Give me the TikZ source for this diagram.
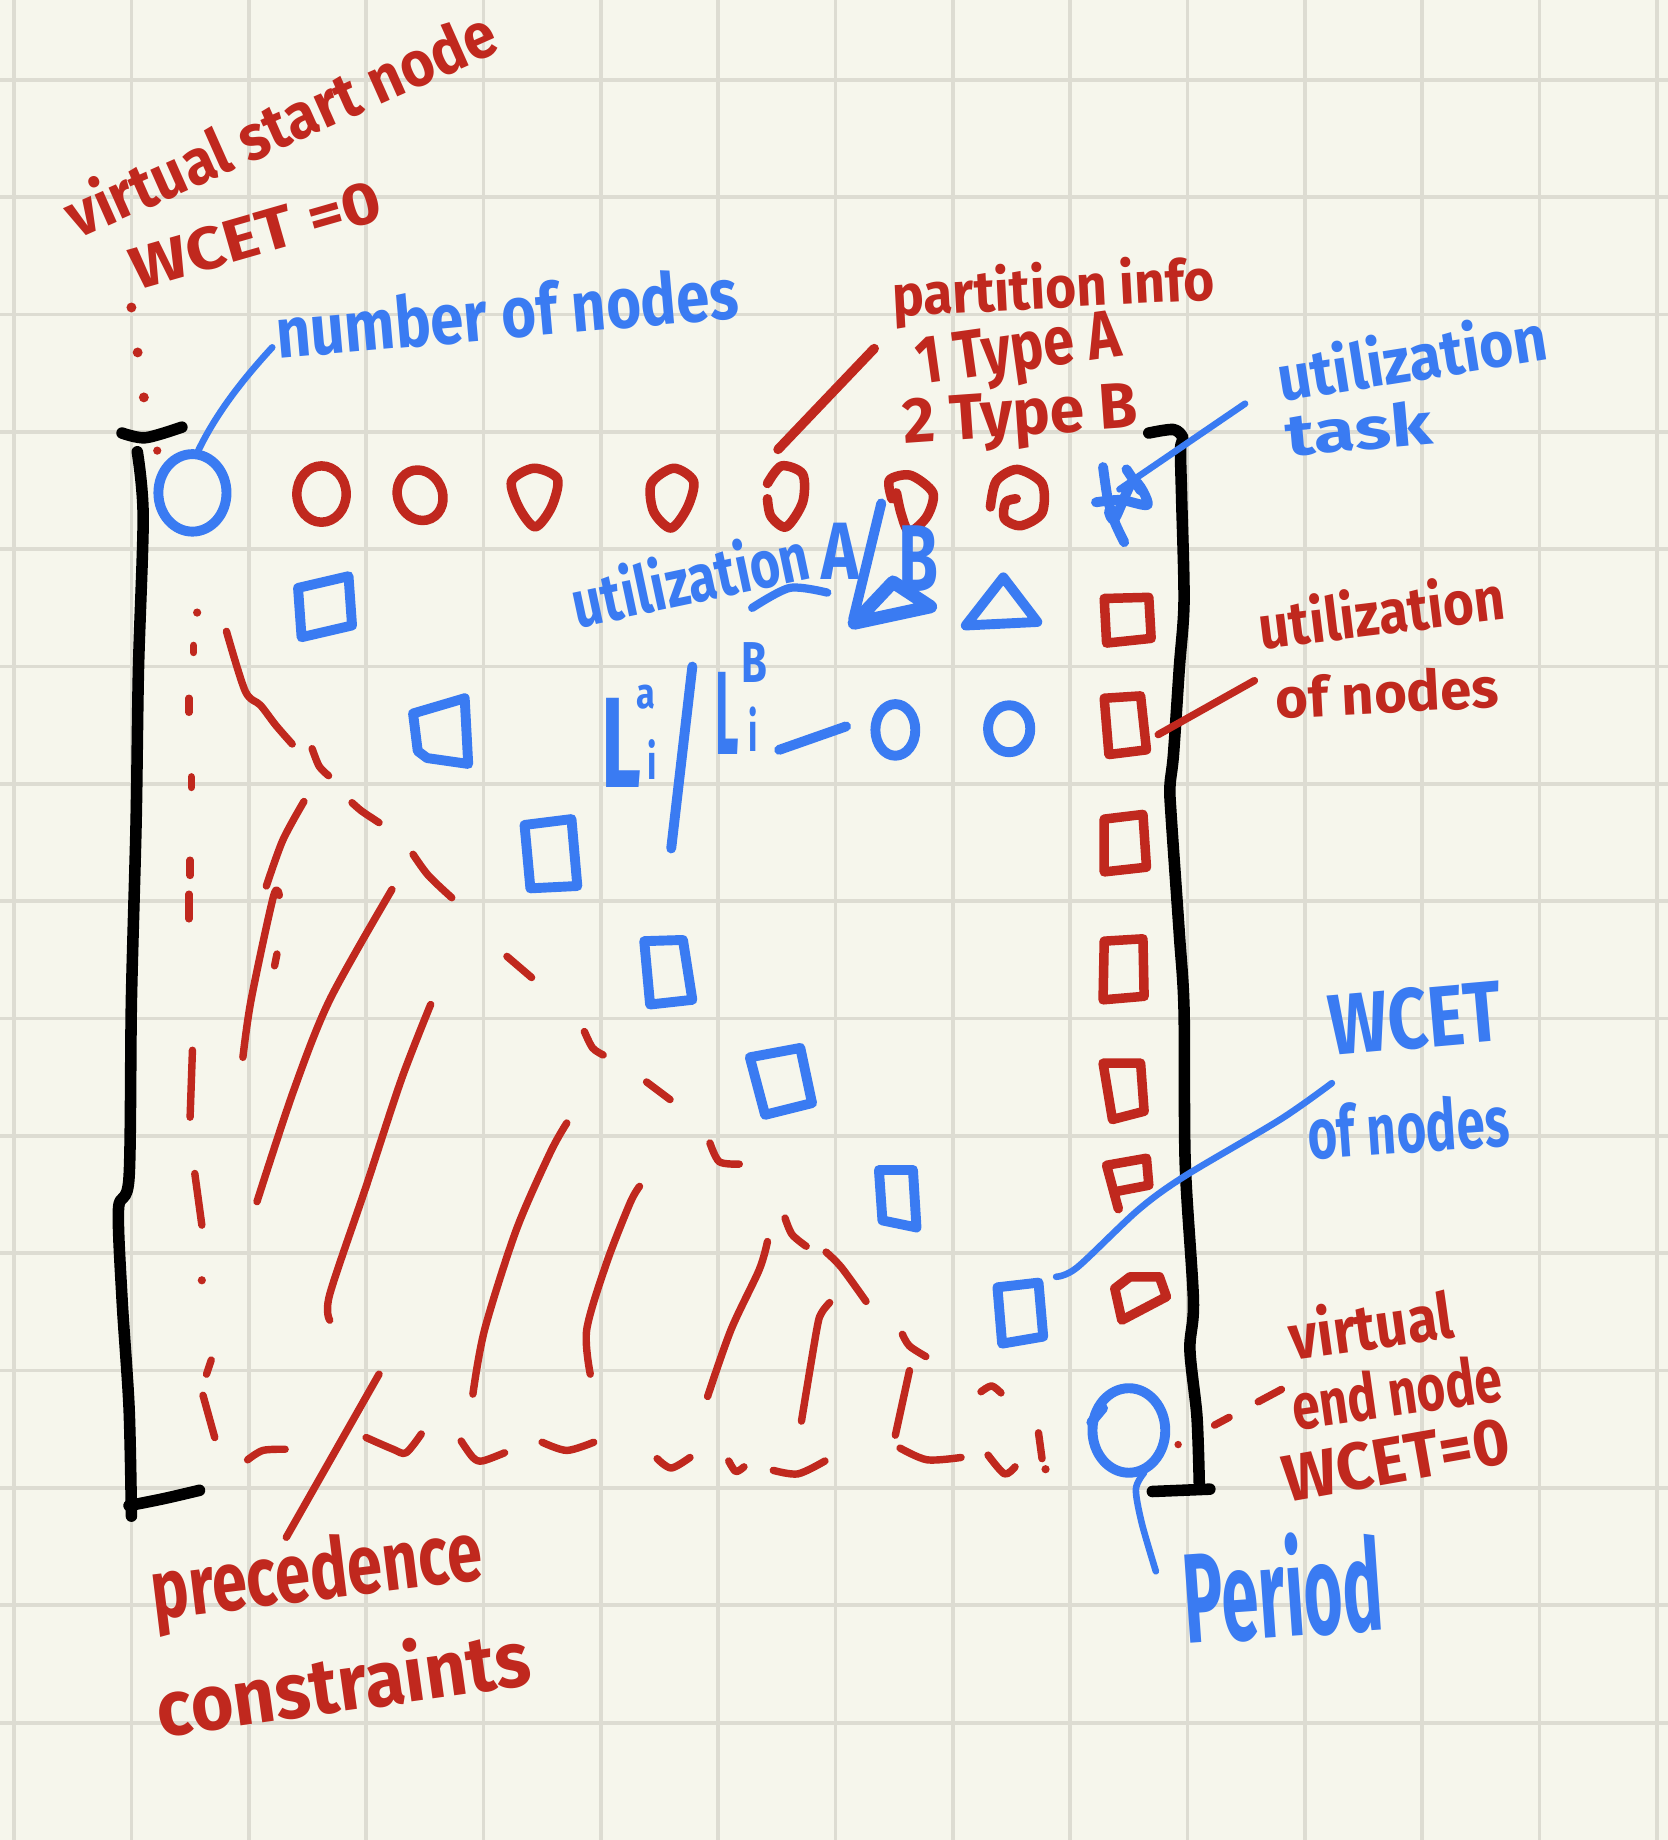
\documentclass[tikz,border=0pt]{standalone}
\usepackage{fontspec}
\setmainfont{Fira Sans}
\usepackage{graphicx}
\usetikzlibrary{shapes.geometric}
\newdimen\pxu \pxu=0.1mm
\newcommand{\hw}[3]{\resizebox{#1\pxu}{#2\pxu}{\bfseries #3}}
\definecolor{bgc}{RGB}{246,246,236}
\definecolor{gridc}{RGB}{221,220,210}
\definecolor{hred}{RGB}{192,40,30}
\definecolor{hblue}{RGB}{58,123,242}
\tikzset{
  gridline/.style={draw=gridc, line width=0.9pt},
  redpen/.style={draw=hred, line width=2.3pt, line cap=round, line join=round},
  redthin/.style={draw=hred, line width=1.8pt, line cap=round, line join=round},
  bluepen/.style={draw=hblue, line width=2.4pt, line cap=round, line join=round},
  bluethin/.style={draw=hblue, line width=1.6pt, line cap=round, line join=round},
  blackpen/.style={draw=black, line width=2.8pt, line cap=round, line join=round},
  rtext/.style={text=hred, inner sep=0pt, outer sep=0pt},
  btext/.style={text=hblue, inner sep=0pt, outer sep=0pt},
}
\begin{document}
\begin{tikzpicture}[x=0.01cm,y=-0.01cm]
\path[use as bounding box, fill=bgc] (0,0) rectangle (1421,1568);
\foreach \x in {12,112,...,1412} \draw[gridline] (\x,0) -- (\x,1568);
\foreach \y in {68,168,...,1468} \draw[gridline] (0,\y) -- (1421,\y);

% ---------- brackets ----------
\draw[blackpen] plot[smooth] coordinates {(104,369) (124,373) (155,364)};
\draw[blackpen] plot[smooth] coordinates {(117,385) (122,440) (118,570) (116,700) (112,852) (110,1003) (101,1030) (104,1107) (110,1200) (112,1292)};
\draw[blackpen] plot[smooth] coordinates {(110,1283) (140,1277) (170,1270)};
\draw[blackpen] plot[smooth] coordinates {(979,369) (1000,366) (1008,373) (1006,383) (1007,426) (1009,513) (1005,569) (1000,643) (997,670) (998,695) (1005,796) (1009,860) (1010,991) (1017,1108) (1014,1150) (1020,1207) (1022,1264)};
\draw[blackpen] (982,1271) -- (1031,1269);

% ---------- top row ----------
\node[draw=hblue, line width=2.4pt, ellipse, minimum width=58\pxu, minimum height=66\pxu, inner sep=0pt] (start) at (164,420) {};
\coordinate (startdot) at (125,356);
\coordinate (startlead) at (168,386);

\draw[redpen] (274,421) ellipse [x radius=21, y radius=24];
\draw[redpen, rotate around={25:(358,422)}] (358,422) ellipse [x radius=19, y radius=22];
\draw[redpen] plot[smooth cycle] coordinates {(436,410) (455,399) (475,408) (470,432) (456,449) (442,432)};
\draw[redpen] plot[smooth cycle] coordinates {(555,412) (574,399) (591,410) (586,432) (572,450) (557,436)};
\draw[redpen] plot[smooth] coordinates {(654,412) (666,397) (684,404) (684,428) (670,449) (657,440) (654,425)};
\draw[redpen] plot[smooth] coordinates {(760,425) (758,409) (776,405) (795,420) (790,440) (775,453) (768,438) (764,420)};
\draw[redpen] plot[smooth] coordinates {(844,432) (849,410) (867,400) (888,412) (888,437) (870,448) (856,442) (857,428) (866,425)};
% utilization task scribble
\draw[bluepen] plot[smooth] coordinates {(940,398) (944,425) (950,445) (958,462)};
\draw[bluepen] plot[smooth] coordinates {(934,428) (955,426) (978,430) (966,410) (950,442) (945,436)};
\draw[bluepen] (960,400) -- (972,418);

% ---------- diagonal blue squares ----------
\draw[bluepen] (254,501) -- (297,491) -- (300,533) -- (257,543) -- cycle;
\draw[bluepen] (352,608) -- (396,595) -- (399,651) -- (364,646) -- (356,640) -- cycle;
\draw[bluepen] (447,703) -- (487,698) -- (492,755) -- (452,757) -- cycle;
\draw[bluepen] (549,802) -- (582,801) -- (590,852) -- (554,856) -- cycle;
\draw[bluepen] (639,901) -- (682,893) -- (692,940) -- (652,950) -- cycle;
\draw[bluepen] (749,997) -- (778,997) -- (781,1046) -- (752,1040) -- cycle;
\draw[bluepen] (850,1097) -- (885,1093) -- (889,1139) -- (854,1145) -- cycle;

% ---------- right column red squares ----------
\draw[redpen] (941,510) -- (979,509) -- (981,544) -- (943,548) -- cycle;
\draw[redpen] (941,595) -- (972,593) -- (977,639) -- (945,643) -- cycle;
\draw[redpen] (941,698) -- (974,694) -- (977,739) -- (941,743) -- cycle;
\draw[redpen] (941,802) -- (974,800) -- (975,849) -- (940,852) -- cycle;
\draw[redpen] (940,906) -- (972,906) -- (975,947) -- (948,954) -- cycle;
\draw[redpen] (953,1030) -- (943,993) -- (977,987) -- (979,1010) -- (953,1015);
\draw[redpen] (956,1125) -- (950,1098) -- (963,1088) -- (988,1088) -- (994,1105) -- cycle;

% ---------- utilization A/B, triangles ----------
\draw[bluepen, line width=3.2pt] (728,531) -- (793,517) -- (761,496) -- cycle;
\draw[bluepen] (823,533) -- (855,492) -- (884,530) -- cycle;
\draw[bluepen] (751,429) -- (727,528);
\draw[bluethin, line width=2pt] plot[smooth] coordinates {(641,518) (673,501) (705,505)};
\node[btext, rotate=12] (uab) at (588,492) {\hw{205}{46}{utilization}};
\node[btext] (Aa) at (716,470) {\hw{32}{48}{A}};
\node[btext] (Bb) at (783,476) {\hw{34}{56}{B}};

% ---------- L_i^a / L_i^B ----------
\node[btext] (L1) at (530,633) {\hw{34}{76}{L}};
\node[btext] (L1a) at (550,594) {\hw{16}{20}{a}};
\node[btext] (L1i) at (556,647) {\hw{8}{34}{i}};
\draw[bluepen] (590,568) -- (572,723);
\node[btext] (L2) at (620,608) {\hw{20}{70}{L}};
\node[btext] (L2b) at (643,565) {\hw{22}{34}{B}};
\node[btext] (L2i) at (642,621) {\hw{8}{38}{i}};
\draw[bluepen] (664,639) -- (721,619);
\draw[bluepen] (763,622) ellipse [x radius=17, y radius=22];
\draw[bluepen] (860,621) ellipse [x radius=18, y radius=20];

% ---------- precedence strokes ----------
\foreach \p/\q in {168/522, 172/1091}
  \fill[hred] (\p,\q) circle (3.5);
\draw[redthin] (165,550) -- (165,556);
\draw[redthin] (161,595) -- (161,607);
\draw[redthin] (163,662) -- (163,671);
\draw[redthin] (162,733) -- (162,746);
\draw[redthin] (161,762) -- (161,783);
\draw[redthin] (164,895) -- (162,952);
\draw[redthin] (166,1000) -- (172,1044);
\draw[redthin] (180,1159) -- (176,1171);
\draw[redthin] (173,1189) -- (183,1225);

\draw[redthin] plot[smooth] coordinates {(193,538) (209,589) (222,601) (235,618) (249,634)};
\draw[redthin] plot[smooth] coordinates {(266,638) (272,653) (280,661)};
\draw[redthin] plot[smooth] coordinates {(300,684) (308,691) (323,701)};
\draw[redthin] plot[smooth] coordinates {(352,728) (365,746) (385,765)};
\draw[redthin] (432,815) -- (453,833);
\draw[redthin] plot[smooth] coordinates {(498,879) (505,893) (514,899)};
\draw[redthin] (551,922) -- (571,937);
\draw[redthin] plot[smooth] coordinates {(605,974) (613,990) (630,992)};
\draw[redthin] plot[smooth] coordinates {(669,1038) (675,1052) (687,1062)};
\draw[redthin] plot[smooth] coordinates {(704,1067) (717,1080) (738,1109)};
\draw[redthin] plot[smooth] coordinates {(769,1137) (775,1147) (789,1156)};
\draw[redthin] plot[smooth] coordinates {(836,1186) (845,1181) (853,1187)};

\draw[redthin] plot[smooth] coordinates {(207,901) (214,852) (233,764) (238,763)};
\draw[redthin] (236,813) -- (234,823);
\draw[redthin] plot[smooth] coordinates {(227,755) (241,716) (259,683)};
\draw[redthin] plot[smooth] coordinates {(219,1024) (250,930) (281,852) (334,758)};
\draw[redthin] plot[smooth] coordinates {(281,1125) (281,1103) (312,1011) (342,920) (367,856)};
\draw[redthin] plot[smooth] coordinates {(403,1188) (413,1133) (440,1048) (469,982) (483,957)};
\draw[redthin] plot[smooth] coordinates {(503,1171) (500,1133) (517,1076) (537,1025) (545,1011)};
\draw[redthin] plot[smooth] coordinates {(603,1190) (623,1133) (647,1082) (654,1058)};
\draw[redthin] plot[smooth] coordinates {(683,1211) (696,1133) (700,1119) (707,1110)};
\draw[redthin] (763,1223) -- (775,1168);

\draw[redthin] plot[smooth] coordinates {(211,1244) (224,1236) (243,1235)};
\draw[redthin] plot[smooth] coordinates {(312,1225) (335,1235) (346,1238) (359,1222)};
\draw[redthin] plot[smooth] coordinates {(393,1228) (403,1242) (411,1245) (430,1238)};
\draw[redthin] plot[smooth] coordinates {(462,1229) (483,1236) (506,1229)};
\draw[redthin] plot[smooth] coordinates {(560,1243) (572,1251) (588,1242)};
\draw[redthin] plot[smooth] coordinates {(621,1245) (627,1254) (634,1250)};
\draw[redthin] plot[smooth] coordinates {(659,1253) (680,1256) (703,1245)};
\draw[redthin] plot[smooth] coordinates {(767,1234) (790,1244) (819,1242)};
\draw[redthin] plot[smooth] coordinates {(842,1240) (856,1256) (865,1250)};
\draw[redthin] (885,1221) -- (888,1243);
\fill[hred] (891,1252) circle (3.5);

% ---------- end node ----------
\node[draw=hblue, line width=2.4pt, ellipse, minimum width=62\pxu, minimum height=72\pxu, inner sep=0pt] (endn) at (962,1219) {};
\draw[bluepen] (930,1212) -- (940,1200);

% ---------- labels ----------
\node[rtext, rotate=24] (vsn) at (238,104) {\hw{395}{44}{virtual start node}};
\node[rtext, rotate=16] (wcet0) at (218,200) {\hw{220}{36}{WCET =0}};
\node[btext, rotate=5] (numn) at (432,266) {\hw{395}{46}{number of nodes}};
\node[rtext, rotate=3] (pinfo) at (898,248) {\hw{275}{40}{partition info}};
\node[rtext, rotate=8] (ty1) at (868,302) {\hw{175}{40}{1 Type A}};
\node[rtext, rotate=4] (ty2) at (870,358) {\hw{200}{38}{2 Type B}};
\node[btext, rotate=9] (utask) at (1203,303) {\hw{232}{44}{utilization}};
\node[btext, rotate=5] (task) at (1158,365) {\hw{125}{38}{task}};
\node[rtext, rotate=7] (un1) at (1177,520) {\hw{210}{42}{utilization}};
\node[rtext, rotate=3] (un2) at (1182,590) {\hw{190}{36}{of nodes}};
\node[btext, rotate=5] (wc1) at (1206,868) {\hw{148}{52}{WCET}};
\node[btext, rotate=4] (wc2) at (1200,960) {\hw{172}{46}{of nodes}};
\node[rtext, rotate=8] (ve1) at (1168,1128) {\hw{140}{44}{virtual}};
\node[rtext, rotate=8] (ve2) at (1190,1186) {\hw{180}{42}{end node}};
\node[rtext, rotate=10] (ve3) at (1190,1244) {\hw{195}{40}{WCET=0}};
\node[btext, rotate=4] (per) at (1093,1352) {\hw{170}{88}{Period}};
\node[rtext, rotate=7] (pc1) at (270,1344) {\hw{283}{54}{precedence}};
\node[rtext, rotate=8] (pc2) at (292,1432) {\hw{320}{54}{constraints}};

% ---------- leaders ----------
\coordinate (vsnend) at (112,262);
\draw[redthin, dash pattern=on 0pt off 11pt, line width=2.4pt] (vsnend) -- (startdot);
\fill[hred] (134,384) circle (3.5);
\coordinate (numend) at (232,296);
\draw[bluethin] (startlead) .. controls (185,350) and (210,320) .. (numend);
\coordinate (pa) at (663,383); \coordinate (pb) at (745,297);
\draw[redpen] (pa) -- (pb);
\coordinate (ta) at (954,417); \coordinate (tb) at (1061,344);
\draw[bluethin] (ta) -- (tb);
\coordinate (na) at (987,626); \coordinate (nb) at (1069,580);
\draw[redthin] (na) -- (nb);
\coordinate (wa) at (900,1088); \coordinate (wb) at (1135,923);
\draw[bluethin] plot[smooth] coordinates {(wa) (918,1080) (970,1031) (1010,1002) (1091,954) (wb)};
\coordinate (ea) at (1004,1231); \coordinate (eb) at (1092,1184);
\draw[redthin, dash pattern=on 0pt off 10pt on 4pt off 8pt on 10pt off 7pt] (ea) -- (eb);
\coordinate (pera) at (975,1255); \coordinate (perb) at (985,1339);
\draw[bluethin] plot[smooth] coordinates {(pera) (968,1269) (973,1298) (perb)};
\coordinate (pra) at (244,1310); \coordinate (prb) at (323,1171);
\draw[redthin] (pra) -- (prb);
\end{tikzpicture}
\end{document}
